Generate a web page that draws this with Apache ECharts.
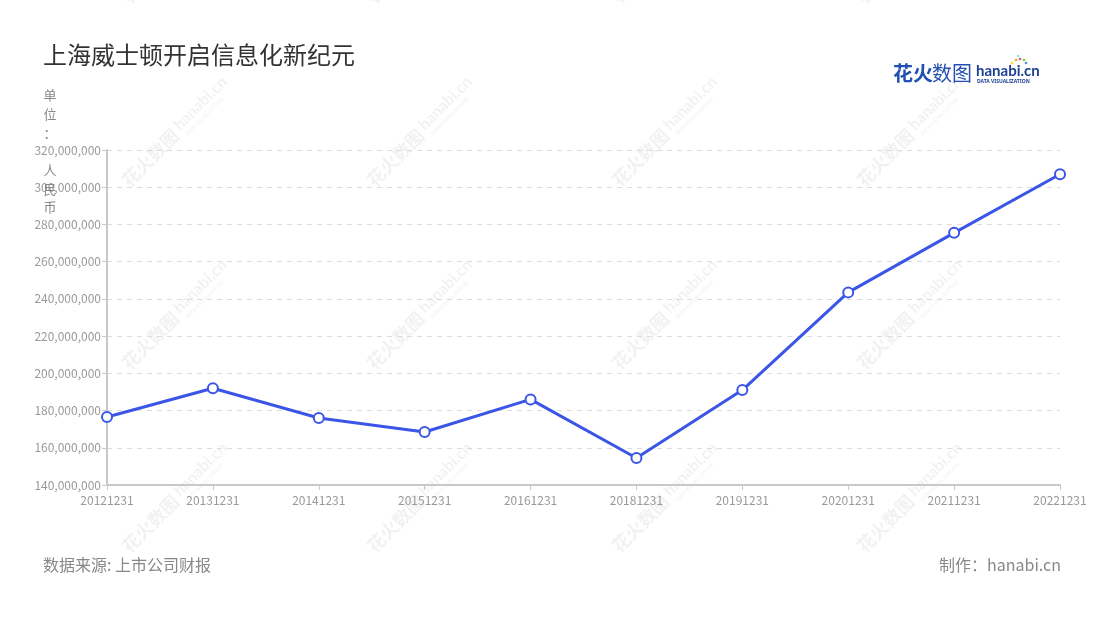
<!DOCTYPE html>
<html>
<head>
<meta charset="utf-8">
<script src="https://cdn.jsdelivr.net/npm/echarts@6/dist/echarts.min.js"></script>
<style>
html,body{margin:0;padding:0;background:#fff;}
#main{width:1100px;height:620px;}
</style>
</head>
<body>
<div id="main"></div>
<script>
const titleText = '上海威士顿开启信息化新纪元';
const unitName = '单\n位\n：\n\n人\n民\n币';
const categories = ['20121231','20131231','20141231','20151231','20161231','20181231','20191231','20201231','20211231','20221231'];
const values = [176500000, 192000000, 176000000, 168500000, 186000000, 154500000, 191000000, 243500000, 275500000, 307000000];
const yMin = 140000000, yMax = 320000000, yStep = 20000000;
const sourceText = '数据来源: 上市公司财报';
const makerText = '制作：hanabi.cn';

const FONT = '"Noto Sans CJK SC","Noto Sans",sans-serif';
const chart = echarts.init(document.getElementById('main'), null, {renderer:'canvas'});

// watermark
const wm = [];
const cols = [180, 425, 670, 915];
const rows = [-55, 128, 311, 494, 677];
const WMC = 'rgba(0,0,0,0.055)';
cols.forEach(cx => rows.forEach(cy => {
  wm.push({
    type:'group', x:cx, y:cy, rotation:Math.PI/4, z:-10, silent:true,
    children:[
      {type:'text', x:-6, y:0, style:{text:'花火数图', font:'bold 18px '+FONT, fill:WMC, align:'right', verticalAlign:'middle'}},
      {type:'text', x:-2, y:-3, style:{text:'hanabi.cn', font:'bold 16px "Lato",sans-serif', fill:WMC, align:'left', verticalAlign:'middle'}},
      {type:'text', x:0, y:9, style:{text:'DATA VISUALIZATION', font:'bold 5px '+FONT, fill:WMC, align:'left', verticalAlign:'middle'}}
    ]
  });
}));

// logo
const logo = {
  type:'group', x:893, y:73, z:10, silent:true,
  children:[
    {type:'text', x:0, y:0, style:{text:'花火', font:'bold 20px '+FONT, fill:'#2450b2', verticalAlign:'middle'}},
    {type:'text', x:39, y:0, style:{text:'数图', font:'normal 20px '+FONT, fill:'#2450b2', verticalAlign:'middle'}},
    {type:'text', x:83, y:-2, style:{text:'hanabi.cn', font:'bold 15px "Lato","Noto Sans",sans-serif', fill:'#1d3f96', verticalAlign:'middle'}},
    {type:'text', x:84, y:9, style:{text:'DATA VISUALIZATION', font:'bold 5px "Noto Sans",sans-serif', fill:'#1d3f96', verticalAlign:'middle'}},
    {type:'circle', shape:{cx:123, cy:-13, r:1.3}, style:{fill:'#f5a623'}},
    {type:'circle', shape:{cx:127, cy:-14, r:1.3}, style:{fill:'#e94b8a'}},
    {type:'circle', shape:{cx:131, cy:-13, r:1.3}, style:{fill:'#7ed321'}},
    {type:'circle', shape:{cx:133, cy:-10, r:1.3}, style:{fill:'#4a90e2'}},
    {type:'circle', shape:{cx:119, cy:-10, r:1.3}, style:{fill:'#f8e71c'}},
    {type:'circle', shape:{cx:125, cy:-17, r:1.1}, style:{fill:'#50e3c2'}}
  ]
};

chart.setOption({
  backgroundColor:'#fff',
  animation:false,
  textStyle:{fontFamily:FONT},
  title:{
    text:titleText, left:38, top:38,
    textStyle:{fontSize:24, fontWeight:'normal', color:'#333', fontFamily:FONT}
  },
  graphic: wm.concat([logo,
    {type:'text', x:50, y:86, z:20, style:{text:unitName, font:'13px '+FONT, fill:'#888', align:'center', verticalAlign:'top', lineHeight:18.7}},
    {type:'text', left:43, top:557, style:{text:sourceText, font:'16px '+FONT, fill:'#888'}},
    {type:'text', right:39, top:557, style:{text:makerText, font:'16px '+FONT, fill:'#888'}}
  ]),
  grid:{left:107, right:40, top:150, bottom:135, containLabel:false},
  xAxis:{
    type:'category', data:categories, boundaryGap:false,
    axisLine:{lineStyle:{color:'#c8c8c8', width:2}},
    axisTick:{show:true, alignWithLabel:true, lineStyle:{color:'#c8c8c8'}},
    axisLabel:{color:'#999', fontSize:12, margin:9, fontFamily:FONT},
    splitLine:{show:false}
  },
  yAxis:{
    type:'value', min:yMin, max:yMax, interval:yStep,
    axisLine:{show:true, lineStyle:{color:'#c8c8c8', width:2}},
    axisTick:{show:true, lineStyle:{color:'#c8c8c8'}},
    axisLabel:{color:'#999', fontSize:12, margin:6, fontFamily:FONT},
    splitLine:{show:true, lineStyle:{color:'#dcdcdc', type:[5,5]}}
  },
  series:[{
    type:'line', data:values, z:5,
    symbol:'circle', symbolSize:10, showAllSymbol:true,
    lineStyle:{color:'#3b55e6', width:3},
    itemStyle:{color:'#fff', borderColor:'#3b55e6', borderWidth:2}
  }]
});
</script>
</body>
</html>
